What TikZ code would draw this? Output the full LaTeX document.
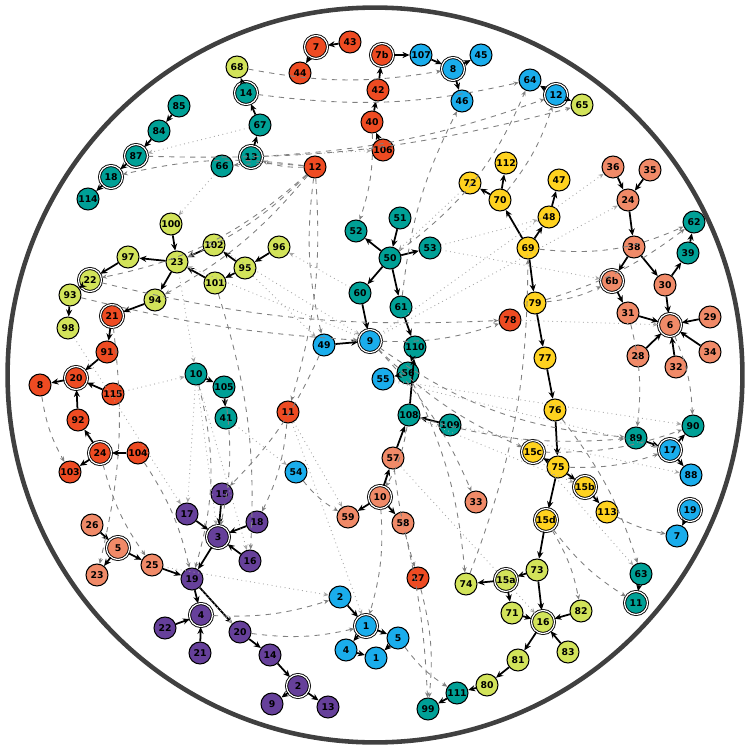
\documentclass[tikz,border=0pt]{standalone}
\usepackage{fontspec}
\setsansfont{DejaVu Sans}
\usetikzlibrary{arrows.meta}
\definecolor{R}{HTML}{EE4B22}
\definecolor{S}{HTML}{F08A68}
\definecolor{T}{HTML}{00A096}
\definecolor{C}{HTML}{1AADEC}
\definecolor{Y}{HTML}{FFD21F}
\definecolor{L}{HTML}{D2E35A}
\definecolor{P}{HTML}{66409A}
\begin{document}
\begin{tikzpicture}[x=0.02cm,y=-0.02cm,
 nd/.style={circle,draw=black,line width=0.6pt,minimum size=0.44cm,inner sep=0pt,font=\sffamily\bfseries\fontsize{5.3}{5.3}\selectfont},
 dbl/.style={double=white,double distance=0.7pt,line width=0.5pt,minimum size=0.46cm},
 e/.style={-{Stealth[length=4pt,width=3.5pt]},line width=1pt,black},
 dsh/.style={-{Stealth[length=3pt,width=2.5pt]},gray,dashed,line width=0.5pt},
 dot/.style={-{Stealth[length=3pt,width=2.5pt]},gray!70,dotted,line width=0.5pt}]
\useasboundingbox (0,0) rectangle (750,750);
\node[circle,draw=black!75,line width=2.6pt,minimum size=14.7cm] (frame) at (375,375) {};
% red
\foreach \n/\x/\y/\t in {r43/350/42/43,r44/300/73/44,r42/378/90/42,r40/372/122/40,r106/383/150/106,r12/315/167/12,r91/107/352/91,r8/40/385/8,r115/113/394/115,r92/78/420/92,r104/138/453/104,r103/70/472/103,r11/288/412/11,r78/510/320/78,r27/418/578/27}
 \node[nd,fill=R] (\n) at (\x,\y) {\t};
\foreach \n/\x/\y/\t in {r7/316/47/7,r7b/382/55/7b,r21/112/316/21,r20/76/378/20,r24/100/453/24}
 \node[nd,dbl,fill=R] (\n) at (\x,\y) {\t};
% salmon
\foreach \n/\x/\y/\t in {s36/613/167/36,s35/650/170/35,s24/628/200/24,s38/634/247/38,s30/665/285/30,s31/628/313/31,s29/710/317/29,s28/638/356/28,s32/676/367/32,s34/710/352/34,s57/393/458/57,s59/348/517/59,s58/403/523/58,s33/476/502/33,s26/92/525/26,s25/152/565/25,s23/97/575/23}
 \node[nd,fill=S] (\n) at (\x,\y) {\t};
\foreach \n/\x/\y/\t in {s6b/612/281/6b,s6/670/325/6,s10/380/497/10,s5/118/548/5}
 \node[nd,dbl,fill=S] (\n) at (\x,\y) {\t};
% teal
\foreach \n/\x/\y/\t in {t85/179/106/85,t84/159/131/84,t114/88/199/114,t67/260/125/67,t66/222/166/66,t51/400/218/51,t52/356/231/52,t50/390/258/50,t53/430/248/53,t60/360/293/60,t61/401/307/61,t110/415/347/110,t56/408/373/56,t108/409/415/108,t109/450/425/109,t10/196/374/10,t105/224/387/105,t41/226/418/41,t62/694/222/62,t39/688/253/39,t89/636/438/89,t90/693/426/90,t63/641/574/63,t111/457/693/111,t99/428/709/99}
 \node[nd,fill=T] (\n) at (\x,\y) {\t};
\foreach \n/\x/\y/\t in {t87/136/156/87,t18/111/177/18,t14/246/93/14,t13/251/157/13,t11/636/603/11}
 \node[nd,dbl,fill=T] (\n) at (\x,\y) {\t};
% cyan
\foreach \n/\x/\y/\t in {c107/421/55/107,c45/481/55/45,c46/462/101/46,c64/530/80/64,c49/324/345/49,c55/383/379/55,c54/296/472/54,c88/691/475/88,c7/677/536/7,c2/340/597/2,c5/398/638/5,c4/346/650/4,c1b/376/658/1}
 \node[nd,fill=C] (\n) at (\x,\y) {\t};
\foreach \n/\x/\y/\t in {c8/453/69/8,c12/556/95/12,c9/370/341/9,c17/670/450/17,c19/690/510/19,c1/366/626/1}
 \node[nd,dbl,fill=C] (\n) at (\x,\y) {\t};
% yellow
\foreach \n/\x/\y/\t in {y112/506/163/112,y72/470/183/72,y70/500/200/70,y47/559/180/47,y48/549/217/48,y69/528/248/69,y79/535/303/79,y77/545/358/77,y76/555/410/76,y75/558/467/75,y113/607/512/113}
 \node[nd,fill=Y] (\n) at (\x,\y) {\t};
\foreach \n/\x/\y/\t in {y15c/533/452/15c,y15b/585/487/15b,y15d/546/520/15d}
 \node[nd,dbl,fill=Y] (\n) at (\x,\y) {\t};
% lime
\foreach \n/\x/\y/\t in {l68/237/67/68,l65/582/105/65,l100/171/224/100,l97/128/257/97,l23/177/262/23,l102/214/245/102,l96/279/247/96,l95/245/268/95,l101/215/283/101,l93/70/295/93,l94/155/300/94,l98/68/328/98,l74/466/584/74,l73/537/570/73,l71/512/613/71,l82/581/611/82,l83/568/652/83,l81/518/660/81,l80/487/685/80}
 \node[nd,fill=L] (\n) at (\x,\y) {\t};
\foreach \n/\x/\y/\t in {l22/90/280/22,l15a/506/580/15a,l16/543/622/16}
 \node[nd,dbl,fill=L] (\n) at (\x,\y) {\t};
% purple
\foreach \n/\x/\y/\t in {p15/222/494/15,p17/187/514/17,p18/257/522/18,p16/250/561/16,p19/192/579/19,p22/165/628/22,p20/240/632/20,p21/200/653/21,p14/270/655/14,p9/272/704/9,p13/328/707/13}
 \node[nd,fill=P,text=black] (\n) at (\x,\y) {\t};
\foreach \n/\x/\y/\t in {p3/218/537/3,p4/201/615/4,p2/298/686/2}
 \node[nd,dbl,fill=P] (\n) at (\x,\y) {\t};
% solid edges
\foreach \a/\b in {r43/r7,r7/r44,r42/r7b,r7b/c107,c107/c8,c8/c45,c8/c46,r40/r42,r106/r40,c12/c64,c12/l65,
t85/t84,t84/t87,t87/t18,t18/t114,t14/l68,t67/t14,t13/t67,
l100/l23,l23/l97,l97/l22,l22/l93,l93/l98,l23/l94,l94/r21,l102/l23,l95/l102,l96/l95,l95/l101,l101/l23,
r21/r91,r91/r20,r20/r8,r115/r20,r92/r20,r24/r92,r104/r24,r24/r103,
t51/t50,t50/t52,t50/t53,t50/t60,t50/t61,t60/c9,t61/t110,t110/t56,t56/c55,c49/c9,t108/t110,t109/t108,s57/t108,s10/s57,s10/s59,s10/s58,
t10/t105,t105/t41,
s36/s24,s35/s24,s24/s38,s38/s30,s38/s6b,s6b/s31,s30/t39,t39/t62,s30/s6,s31/s6,s29/s6,s28/s6,s32/s6,s34/s6,
y70/y72,y70/y112,y69/y70,y69/y48,y48/y47,y69/y79,y79/y77,y77/y76,y76/y75,y75/y15c,y75/y15b,y15b/y113,y75/y15d,y15d/l73,
t89/c17,c17/t90,c17/c88,c19/c7,
p17/p3,p15/p3,p18/p3,p16/p3,p3/p19,p19/p4,p22/p4,p21/p4,p19/p20,p20/p14,p14/p2,p2/p9,p2/p13,s25/p19,s5/s25,s26/s5,s5/s23,
c2/c1,c1/c4,c1/c5,c5/c1b,c4/c1b,t63/t11,
l73/l15a,l15a/l74,l15a/l71,l73/l16,l71/l16,l82/l16,l83/l16,l16/l81,l81/l80,l80/t111,t111/t99}
 \draw[e] (\a) -- (\b);
% dashed cross edges
\foreach \a/\b/\c in {r12/l23/10,r12/t18/-10,r12/t13/10,r12/l22/15,r12/c49/-10,r12/r11/10,r12/l94/10,r12/t66/-5,
c9/r78/-10,c9/y15c/-10,c9/t89/-15,c9/s33/10,t108/t89/-10,t108/s10/10,y79/s6b/-10,y79/t62/-10,y70/c12/-10,y69/t62/-15,
r40/t52/10,t50/c64/-15,t61/c46/10,t14/c64/-10,l68/c8/-10,t13/c12/-8,t87/l65/-8,
l22/r78/-8,l93/c9/-5,l101/p16/10,t105/p3/10,t10/p19/15,r21/s23/10,r24/s25/-10,r104/p19/10,r8/r103/-10,
p4/c2/-10,p20/c1/-10,s10/c1/10,s57/r27/-5,r27/t99/10,y15d/t11/-10,y113/c7/-8,s6/t90/10,s31/t89/10,y75/c17/-10,y15c/t90/-10,
c54/s59/-10,r11/p18/10,c49/p15/10,t56/l74/10,s58/t99/5,y76/t63/10,c5/t111/-10,l74/y69/-10,y15d/l82/10}
 \draw[dsh] (\a) to[bend left=\c] (\b);
\foreach \a/\b in {l23/t10,l102/c9,t66/l100,t67/t87,l95/c49,t53/s6b,t53/y48,c9/s24,c9/s36,t60/l96,t10/p17,t10/p3,t10/p16,r11/c1,r11/s59,p19/p20,s25/c2,t108/y15b,c55/c17,c55/t90,y15c/t63,s57/l16,t109/c88,t41/c54,t13/r106,c9/l23,r78/s6,y72/t50,l98/p17,r115/t10}
 \draw[dot] (\a) -- (\b);
\end{tikzpicture}
\end{document}
